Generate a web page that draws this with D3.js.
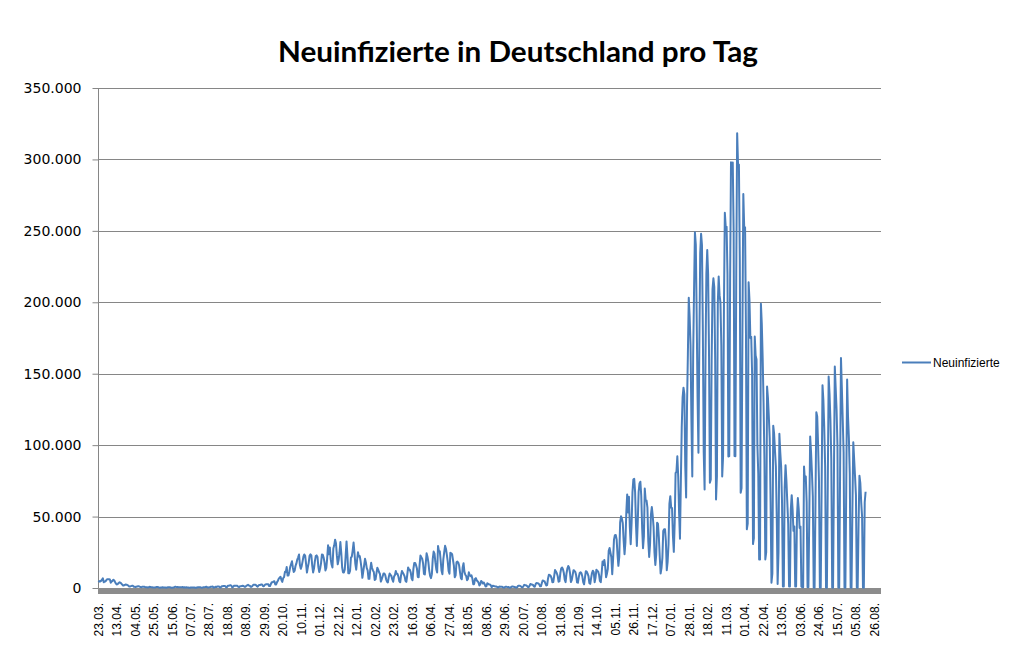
<!DOCTYPE html>
<html>
<head>
<meta charset="utf-8">
<script src="https://cdn.jsdelivr.net/npm/d3@7"></script>
<style>
  html, body { margin: 0; padding: 0; background: #ffffff; }
  svg { display: block; }
</style>
</head>
<body>
<svg id="chart" width="1023" height="672"></svg>
<script>
// ---------------- DATA ----------------
const chartTitle = "Neuinfizierte in Deutschland pro Tag";
const seriesName = "Neuinfizierte";
const firstDate = "2020-03-23";
const categoryCount = 890;
// calendar days that are absent from the category axis
const skippedDates = ["2020-06-29", "2021-10-09", "2021-10-10", "2021-10-31"];

// x-axis tick labels (every 21st category)
const tickLabels = ["23.03.","13.04.","04.05.","25.05.","15.06.","07.07.","28.07.","18.08.","08.09.","29.09.",
  "20.10.","10.11.","01.12.","22.12.","12.01.","02.02.","23.02.","16.03.","06.04.","27.04.",
  "18.05.","08.06.","29.06.","20.07.","10.08.","31.08.","21.09.","14.10.","05.11.","26.11.",
  "17.12.","07.01.","28.01.","18.02.","11.03.","01.04.","22.04.","13.05.","03.06.","24.06.",
  "15.07.","05.08.","26.08."];
const tickStep = 21;

// y-axis ticks
const yTicks = [0, 50000, 100000, 150000, 200000, 250000, 300000, 350000];

// daily new infections, in thousands, one entry per category
const newCasesK = [
  4.1, 4.8, 4.5, 5.0, 5.8, 6.8, 4.0,
  4.6, 4.6, 5.5, 6.2, 6.2, 6.1, 5.9,
  3.7, 4.5, 5.0, 5.8, 5.3, 4.1, 3.0,
  2.5, 2.9, 3.4, 4.0, 3.7, 3.1, 2.4,
  1.8, 1.8, 2.2, 2.4, 2.3, 2.0, 1.7,
  1.0, 1.1, 1.3, 1.5, 1.6, 0.9, 0.8,
  0.7, 0.9, 1.0, 1.3, 1.2, 0.9, 0.7,
  0.6, 0.9, 0.8, 0.9, 0.7, 0.6, 0.6,
  0.3, 0.5, 0.8, 0.7, 0.6, 0.6, 0.4,
  0.3, 0.4, 0.4, 0.7, 0.7, 0.5, 0.3,
  0.2, 0.3, 0.3, 0.5, 0.4, 0.4, 0.3,
  0.2, 0.3, 0.6, 0.6, 0.6, 0.4, 0.2,
  0.2, 0.3, 0.4, 0.8, 0.8, 0.6, 0.7,
  0.5, 0.5, 0.6, 0.6, 0.5, 0.7, 0.3,
  0.5, 0.4, 0.5, 0.4, 0.4, 0.2, 0.2,
  0.4, 0.4, 0.4, 0.4, 0.4, 0.2, 0.2,
  0.4, 0.5, 0.5, 0.6, 0.5, 0.2, 0.2,
  0.5, 0.6, 0.6, 0.8, 0.8, 0.3, 0.3,
  0.6, 0.7, 0.9, 0.9, 1.0, 0.2, 0.5,
  0.9, 0.7, 1.0, 1.1, 1.1, 0.4, 0.4,
  1.2, 1.2, 1.4, 1.4, 1.4, 0.6, 0.6,
  1.5, 1.5, 1.7, 2.0, 1.7, 0.6, 0.7,
  1.5, 1.6, 1.5, 1.5, 1.5, 0.8, 0.6,
  1.2, 1.3, 1.4, 1.5, 1.4, 0.9, 0.8,
  1.5, 1.9, 2.2, 1.7, 1.6, 0.8, 0.9,
  1.4, 2.2, 2.2, 2.3, 2.1, 1.3, 0.9,
  1.8, 2.1, 2.1, 2.5, 2.5, 1.4, 1.2,
  2.1, 2.5, 2.7, 2.7, 2.6, 1.4, 1.4,
  2.8, 4.1, 4.0, 4.5, 4.7, 2.5, 2.5,
  4.1, 5.1, 6.6, 7.3, 7.8, 5.6, 4.3,
  6.9, 7.6, 11.3, 11.2, 14.7, 8.7, 8.7,
  11.4, 14.9, 16.8, 18.7, 14.2, 11.2, 12.1,
  15.4, 17.2, 19.9, 21.5, 23.4, 16.0, 13.4,
  15.3, 18.5, 21.9, 23.5, 22.5, 16.9, 10.8,
  14.4, 17.6, 22.6, 23.6, 22.9, 15.7, 10.9,
  13.6, 18.6, 22.3, 22.8, 21.7, 14.6, 11.2,
  13.6, 17.3, 23.4, 23.3, 21.2, 17.8, 12.3,
  14.1, 20.8, 29.9, 23.7, 28.4, 20.2, 16.4,
  14.4, 27.7, 29.9, 33.8, 31.3, 22.8, 16.6,
  19.5, 24.7, 32.2, 24.7, 14.5, 10.9, 10.9,
  12.9, 22.5, 32.6, 22.9, 10.3, 10.3, 11.9,
  21.2, 22.0, 26.4, 31.8, 24.7, 16.9, 12.8,
  19.6, 25.0, 22.0, 22.4, 18.7, 13.9, 7.1,
  11.4, 15.9, 20.4, 17.9, 13.9, 12.3, 6.4,
  6.4, 13.2, 17.6, 14.0, 12.3, 11.2, 5.6,
  6.1, 10.3, 14.2, 12.9, 11.0, 9.8, 4.5,
  6.1, 8.1, 10.2, 10.2, 9.0, 6.1, 4.4,
  3.9, 7.6, 10.2, 9.1, 8.4, 6.0, 4.4,
  8.0, 9.0, 11.9, 10.0, 9.8, 7.9, 4.7,
  4.0, 9.0, 11.9, 10.6, 9.6, 8.1, 5.0,
  4.3, 9.1, 14.4, 12.8, 12.7, 10.8, 6.6,
  5.5, 13.4, 17.5, 17.5, 16.0, 13.7, 7.7,
  7.5, 15.8, 22.7, 21.6, 20.5, 17.2, 9.9,
  9.5, 17.0, 24.3, 21.9, 18.1, 12.2, 8.5,
  6.9, 9.7, 20.4, 25.5, 24.1, 17.9, 13.2,
  10.8, 29.4, 25.8, 25.8, 19.2, 12.0, 9.6,
  20.0, 24.9, 29.5, 27.5, 23.4, 18.7, 11.9,
  10.0, 24.7, 24.3, 23.7, 19.6, 15.7, 7.5,
  8.8, 18.0, 18.5, 17.8, 15.7, 11.0, 6.9,
  6.1, 14.4, 17.4, 11.3, 9.3, 8.4, 5.4,
  6.3, 11.0, 9.1, 8.2, 8.9, 6.7, 2.7,
  2.7, 6.3, 6.9, 5.3, 4.7, 3.9, 1.8,
  2.6, 4.9, 4.2, 3.2, 3.8, 2.6, 1.1,
  1.2, 3.3, 2.9, 2.4, 2.4, 1.9, 0.5,
  1.5, 1.5, 1.3, 1.1, 1.1, 0.8, 0.3,
  0.7, 1.0, 0.8, 0.8, 0.8, 0.5, 0.2,
  0.6, 0.9, 0.8, 0.6, 0.7, 0.4, 0.2,
  0.6, 1.0, 1.0, 0.8, 0.7, 0.5, 0.2,
  0.6, 1.5, 1.5, 1.6, 1.2, 0.7, 0.5,
  1.2, 2.2, 2.0, 1.9, 1.5, 0.7, 0.6,
  1.5, 2.8, 2.5, 2.4, 2.1, 1.0, 0.9,
  2.8, 3.5, 3.4, 3.2, 2.5, 1.2, 1.2,
  3.5, 5.3, 5.0, 4.8, 3.3, 1.8, 2.0,
  6.5, 9.3, 9.0, 8.5, 7.0, 4.0, 4.2,
  8.3, 12.6, 11.6, 10.3, 8.4, 4.4, 4.7,
  10.3, 13.7, 14.3, 13.1, 10.5, 5.8, 4.1,
  10.0, 13.6, 15.4, 14.3, 10.5, 4.2, 5.5,
  9.0, 12.5, 12.0, 11.3, 8.9, 4.0, 3.7,
  7.6, 10.5, 11.0, 10.4, 8.1, 4.1, 2.6,
  7.2, 11.8, 11.5, 10.0, 8.3, 3.5, 2.9,
  6.9, 10.5, 12.1, 11.0, 4.0, 7.1, 12.8,
  12.0, 11.5, 9.3, 4.9, 4.1, 10.5, 18.5,
  16.1, 19.6, 15.1, 7.6, 10.0, 13.5, 26.0,
  28.0, 24.7, 21.5, 9.7, 20.4, 33.9, 37.0,
  37.1, 34.0, 23.5, 15.5, 21.8, 46.0, 50.2,
  48.6, 45.3, 33.0, 23.6, 32.0, 52.8, 65.4,
  52.9, 63.9, 42.7, 30.6, 45.3, 66.9, 75.9,
  76.4, 67.1, 44.4, 29.4, 45.8, 67.2, 73.2,
  74.4, 64.5, 42.1, 27.8, 36.1, 69.6, 61.3,
  61.3, 56.3, 32.6, 21.7, 30.6, 51.3, 56.7,
  50.9, 42.8, 25.1, 16.1, 23.4, 45.7, 44.9,
  35.4, 22.2, 10.1, 13.9, 21.1, 40.0, 41.2,
  41.2, 32.6, 12.5, 18.5, 30.6, 58.9, 64.3,
  56.3, 55.9, 36.5, 25.3, 45.7, 80.4, 81.4,
  92.2, 78.0, 52.5, 34.5, 74.4, 112.3, 133.5,
  140.2, 135.5, 85.4, 63.4, 126.9, 164.0, 203.1,
  190.1, 170.0, 118.0, 78.0, 162.6, 208.5, 249.0,
  240.2, 190.0, 133.0, 94.7, 169.6, 234.3, 248.0,
  240.0, 180.0, 95.0, 69.0, 159.0, 220.0, 236.6,
  220.0, 165.0, 73.7, 76.0, 159.0, 209.1, 216.8,
  210.7, 160.0, 62.0, 78.0, 198.9, 218.0, 205.0,
  200.0, 170.0, 78.0, 92.0, 198.0, 262.7, 252.8,
  252.8, 220.0, 92.0, 92.3, 215.0, 298.0, 294.9,
  297.8, 250.0, 92.4, 92.3, 222.1, 318.4, 296.5,
  296.5, 230.0, 66.7, 70.0, 180.0, 275.8, 252.5,
  252.5, 180.0, 41.1, 45.0, 214.0, 201.7, 175.0,
  175.8, 150.0, 30.8, 35.0, 176.0, 162.8, 160.0,
  100.0, 80.0, 20.0, 20.0, 199.0, 185.0, 161.0,
  130.0, 90.0, 20.0, 25.0, 141.0, 133.0, 120.0,
  105.0, 60.0, 3.7, 10.0, 113.6, 108.0, 96.0,
  85.0, 50.0, 2.8, 25.0, 108.0, 95.0, 85.0,
  60.0, 1.0, 1.0, 70.0, 86.0, 75.0, 60.0,
  45.0, 1.0, 1.0, 55.0, 65.0, 55.0, 40.0,
  43.0, 1.0, 1.0, 50.0, 63.0, 55.0, 42.0,
  43.0, 1.0, 0.5, 0.5, 85.0, 75.0, 78.0,
  60.0, 0.5, 0.5, 50.0, 106.0, 95.0, 80.7,
  64.0, 0.3, 0.2, 58.0, 123.0, 120.0, 100.0,
  75.0, 0.3, 0.2, 68.0, 142.0, 131.6, 112.0,
  85.0, 0.3, 0.2, 72.0, 148.0, 136.0, 118.0,
  90.0, 0.3, 0.2, 78.0, 155.0, 140.0, 125.0,
  100.0, 0.3, 0.2, 80.0, 161.0, 140.0, 118.0,
  95.0, 0.3, 0.2, 70.0, 146.0, 120.0, 105.0,
  80.0, 0.3, 0.2, 55.0, 102.0, 90.0, 78.0,
  65.0, 0.3, 0.2, 45.0, 78.6, 73.5, 60.0,
  50.0, 0.3, 0.2, 60.0, 67.4
];

// ---------------- BUILD CATEGORIES ----------------
const categories = [];
{
  const skip = new Set(skippedDates);
  let d = new Date(firstDate + "T00:00:00Z");
  while (categories.length < categoryCount) {
    const key = d.toISOString().slice(0, 10);
    if (!skip.has(key)) categories.push(key);
    d = new Date(d.getTime() + 86400000);
  }
}
const data = newCasesK.map((v, i) => ({ cat: categories[i], value: v * 1000 }));

// ---------------- LAYOUT ----------------
const svg = d3.select("#chart");
const plot = { left: 98, right: 881, top: 88, bottom: 588 };
const gridColor = "#868686";
const lineColor = "#4A7EBB";

const x = d3.scaleBand().domain(categories).range([plot.left, plot.right]).padding(0);
const y = d3.scaleLinear().domain([0, 350000]).range([plot.bottom, plot.top]);
const xc = c => x(c) + x.bandwidth() / 2;

svg.append("rect").attr("width", 1023).attr("height", 672).attr("fill", "#ffffff");

// title
svg.append("text")
  .attr("x", 518).attr("y", 61.5)
  .attr("text-anchor", "middle")
  .attr("font-family", "Lato, 'Open Sans', sans-serif")
  .attr("font-weight", "bold")
  .attr("font-size", 29)
  .attr("textLength", 480)
  .attr("lengthAdjust", "spacingAndGlyphs")
  .attr("fill", "#000")
  .text(chartTitle);

// horizontal gridlines
svg.append("g").selectAll("line")
  .data(yTicks.filter(t => t > 0))
  .join("line")
  .attr("x1", plot.left).attr("x2", plot.right)
  .attr("y1", d => Math.round(y(d)) + 0.5).attr("y2", d => Math.round(y(d)) + 0.5)
  .attr("stroke", gridColor).attr("stroke-width", 1);

// y axis
const yAxis = d3.axisLeft(y)
  .tickValues(yTicks)
  .tickSize(6)
  .tickPadding(11)
  .tickFormat(d => d === 0 ? "0" : d3.format(",")(d).replace(/,/g, "."));
const yg = svg.append("g").attr("transform", `translate(${plot.left + 0.5},0)`).call(yAxis);
yg.select(".domain").attr("stroke", gridColor).attr("d", `M-0,${plot.top}V${plot.bottom}`);
yg.selectAll(".tick line").attr("stroke", gridColor);
yg.selectAll(".tick text")
  .attr("font-family", "'DejaVu Sans', Verdana, sans-serif")
  .attr("font-size", 14)
  .attr("fill", "#000");

// thick x-axis bar
svg.append("rect")
  .attr("x", plot.left).attr("y", plot.bottom)
  .attr("width", plot.right - plot.left).attr("height", 6)
  .attr("fill", "#8c8c8c");

// x tick labels
const tickCats = tickLabels.map((t, k) => ({ cat: categories[k * tickStep], label: t }));
svg.append("g").selectAll("text")
  .data(tickCats)
  .join("text")
  .attr("transform", d => `translate(${xc(d.cat)},603) rotate(-90)`)
  .attr("text-anchor", "end")
  .attr("dy", "0.35em")
  .attr("font-family", "'Liberation Sans', Arial, sans-serif")
  .attr("font-size", 12)
  .attr("fill", "#000")
  .text(d => d.label);

// data line
const line = d3.line().x(d => xc(d.cat)).y(d => y(d.value));
svg.append("path")
  .datum(data)
  .attr("d", line)
  .attr("fill", "none")
  .attr("stroke", lineColor)
  .attr("stroke-width", 2)
  .attr("stroke-linejoin", "round");

// legend
const lg = svg.append("g");
lg.append("line").attr("x1", 902).attr("x2", 931).attr("y1", 362.5).attr("y2", 362.5)
  .attr("stroke", lineColor).attr("stroke-width", 2);
lg.append("text").attr("x", 933).attr("y", 362.5).attr("dy", "0.35em")
  .attr("font-family", "'Liberation Sans', Arial, sans-serif")
  .attr("font-size", 12).attr("fill", "#000")
  .text(seriesName);
</script>
</body>
</html>
